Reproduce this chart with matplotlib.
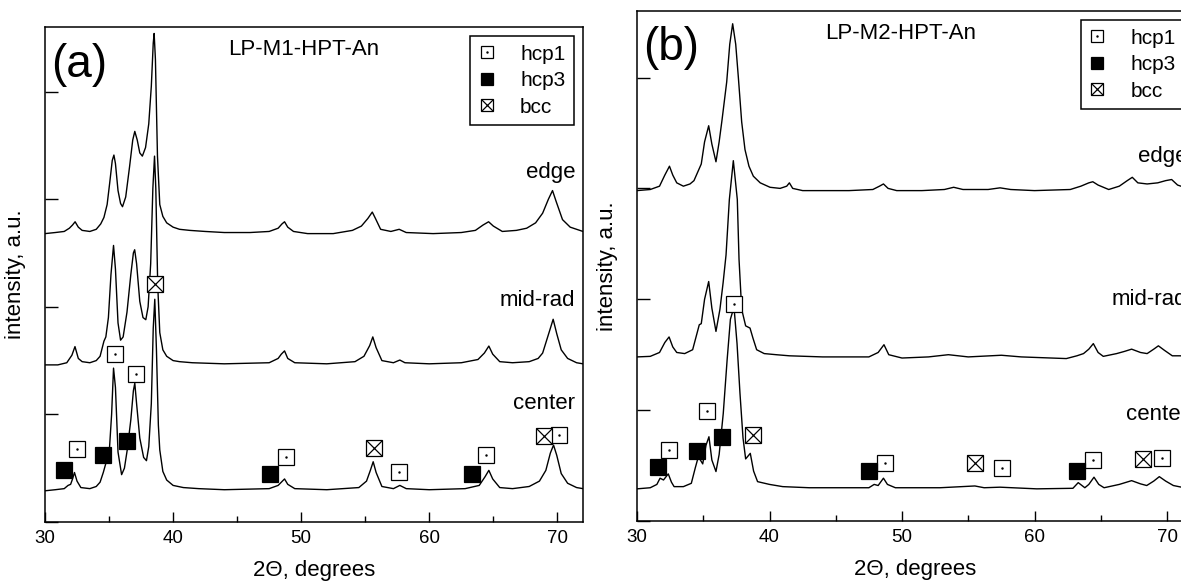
import matplotlib
matplotlib.use("Agg")
import matplotlib.pyplot as plt
from matplotlib.ticker import MultipleLocator

plt.rcParams["font.family"] = ["Liberation Sans", "DejaVu Sans"]

# ---- panel (a): LP-M1-HPT-An ----
a_edge_x = [30.0, 30.8, 31.5, 31.9, 32.15, 32.35, 32.6, 32.9, 33.5, 34.0, 34.35, 34.6, 34.85, 35.05,
            35.25, 35.38, 35.5, 35.7, 35.9, 36.05, 36.3, 36.6, 36.85, 37.01, 37.2, 37.4, 37.6, 37.85,
            38.1, 38.3, 38.45, 38.52, 38.62, 38.78, 38.96, 39.2, 39.5, 40.0, 40.5, 41.3, 42.5, 44.0,
            46.0, 47.5, 48.2, 48.5, 48.7, 48.95, 49.4, 50.5, 52.5, 54.0, 54.7, 55.2, 55.55, 55.8,
            56.2, 57.0, 57.65, 58.2, 60.3, 62.5, 63.6, 64.2, 64.63, 65.0, 65.7, 66.8, 67.6, 68.3,
            68.85, 69.3, 69.62, 69.9, 70.4, 71.0, 72.0]
a_edge_y = [2.68, 2.69, 2.70, 2.73, 2.76, 2.79, 2.74, 2.71, 2.70, 2.72, 2.77, 2.83, 2.95, 3.15,
            3.36, 3.41, 3.33, 3.08, 2.96, 2.93, 3.02, 3.30, 3.55, 3.63, 3.55, 3.43, 3.40, 3.48,
            3.70, 4.05, 4.45, 4.54, 4.30, 3.40, 2.95, 2.84, 2.78, 2.74, 2.72, 2.71, 2.70, 2.69,
            2.69, 2.70, 2.73, 2.77, 2.79, 2.74, 2.70, 2.68, 2.68, 2.71, 2.75, 2.82, 2.88, 2.82,
            2.72, 2.70, 2.72, 2.69, 2.68, 2.69, 2.71, 2.76, 2.79, 2.75, 2.70, 2.71, 2.73, 2.78,
            2.87, 3.00, 3.08, 2.98, 2.81, 2.74, 2.70]

a_mid_x = [30.0, 31.0, 31.7, 32.1, 32.34, 32.6, 32.9, 33.5, 34.0, 34.3, 34.6, 34.75, 34.95, 35.15,
           35.35, 35.5, 35.7, 35.9, 36.1, 36.4, 36.7, 36.9, 37.0, 37.15, 37.4, 37.65, 37.87, 38.05,
           38.25, 38.42, 38.55, 38.65, 38.8, 38.96, 39.2, 39.5, 40.0, 40.5, 41.5, 44.0, 47.5, 48.2,
           48.45, 48.7, 48.95, 49.5, 52.0, 54.2, 54.9, 55.35, 55.59, 55.85, 56.3, 57.2, 57.7, 58.1,
           60.0, 62.5, 63.8, 64.3, 64.65, 64.95, 65.5, 66.5, 67.8, 68.5, 68.85, 69.4, 69.67, 69.95,
           70.3, 70.8, 71.5, 72.0]
a_mid_y = [1.46, 1.46, 1.48, 1.55, 1.63, 1.52, 1.49, 1.48, 1.50, 1.54, 1.68, 1.72, 1.90, 2.30,
           2.57, 2.35, 1.85, 1.69, 1.72, 1.95, 2.30, 2.50, 2.53, 2.40, 2.05, 1.90, 1.88, 2.00,
           2.40, 3.10, 3.40, 3.10, 2.20, 1.76, 1.60, 1.54, 1.50, 1.49, 1.48, 1.47, 1.48, 1.52,
           1.56, 1.59, 1.52, 1.48, 1.47, 1.49, 1.54, 1.64, 1.72, 1.62, 1.50, 1.48, 1.505, 1.48,
           1.47, 1.48, 1.51, 1.57, 1.635, 1.56, 1.49, 1.48, 1.49, 1.52, 1.57, 1.78, 1.884, 1.75,
           1.60, 1.52, 1.48, 1.47]

a_center_x = [30.0, 30.8, 31.5, 31.8, 32.0, 32.15, 32.3, 32.5, 32.8, 33.5, 34.0, 34.3, 34.55, 34.75,
              35.0, 35.2, 35.35, 35.5, 35.7, 35.98, 36.2, 36.42, 36.7, 36.9, 37.01, 37.15, 37.4,
              37.7, 37.92, 38.1, 38.3, 38.45, 38.57, 38.7, 38.85, 38.96, 39.2, 39.5, 40.0, 40.8,
              42.0, 44.0, 47.5, 48.2, 48.45, 48.7, 48.95, 49.5, 52.0, 54.5, 55.1, 55.4, 55.62,
              55.85, 56.3, 57.2, 57.7, 58.2, 60.0, 62.8, 63.9, 64.35, 64.65, 64.95, 65.5, 66.5,
              67.8, 68.6, 69.1, 69.45, 69.7, 69.95, 70.3, 70.8, 71.5, 72.0]
a_center_y = [0.29, 0.30, 0.31, 0.34, 0.35, 0.40, 0.46, 0.38, 0.32, 0.31, 0.33, 0.37, 0.46, 0.545,
              0.62, 1.00, 1.43, 1.25, 0.65, 0.44, 0.50, 0.67, 0.95, 1.22, 1.29, 1.10, 0.78,
              0.60, 0.57, 0.70, 1.10, 1.80, 2.07, 1.60, 0.90, 0.67, 0.47, 0.39, 0.34, 0.32,
              0.31, 0.30, 0.31, 0.34, 0.37, 0.40, 0.35, 0.31, 0.30, 0.32, 0.38, 0.48, 0.56,
              0.46, 0.33, 0.31, 0.34, 0.31, 0.30, 0.31, 0.34, 0.42, 0.48, 0.40, 0.32, 0.31,
              0.33, 0.38, 0.48, 0.64, 0.715, 0.62, 0.45, 0.36, 0.32, 0.31]

a_hcp1_x = [32.47, 35.46, 37.09, 48.78, 57.67, 64.42, 70.14]
a_hcp1_y = [0.676, 1.56, 1.375, 0.60, 0.467, 0.62, 0.805]
a_hcp3_x = [31.51, 34.55, 36.44, 47.54, 63.33]
a_hcp3_y = [0.483, 0.62, 0.756, 0.45, 0.45]
a_bcc_x = [38.57, 55.67, 68.97]
a_bcc_y = [2.21, 0.685, 0.80]

# ---- panel (b): LP-M2-HPT-An ----
b_edge_x = [30.0, 31.0, 31.7, 32.1, 32.45, 32.7, 33.0, 33.5, 34.0, 34.3, 34.63, 34.85, 35.1, 35.41,
            35.65, 35.96, 36.2, 36.42, 36.77, 37.0, 37.22, 37.45, 37.65, 37.9, 38.15, 38.45, 38.78,
            39.3, 40.04, 40.8, 41.3, 41.5, 41.75, 42.5, 44.0, 46.0, 47.8, 48.3, 48.6, 48.95, 49.6,
            51.5, 53.2, 53.9, 54.6, 56.5, 57.4, 58.2, 60.0, 62.7, 63.5, 64.1, 64.4, 64.8, 65.6,
            66.4, 67.0, 67.38, 67.8, 68.5, 69.3, 69.9, 70.35, 70.8, 71.3, 72.0]
b_edge_y = [2.98, 2.99, 3.02, 3.12, 3.20, 3.12, 3.05, 3.02, 3.04, 3.07, 3.16, 3.22, 3.42, 3.565,
            3.40, 3.24, 3.42, 3.62, 3.96, 4.30, 4.485, 4.30, 4.00, 3.60, 3.35, 3.20, 3.11,
            3.05, 3.01, 3.00, 3.02, 3.05, 3.00, 2.98, 2.98, 2.98, 2.99, 3.02, 3.04, 3.00, 2.98,
            2.98, 2.99, 3.01, 2.99, 2.99, 3.005, 2.99, 2.98, 2.99, 3.02, 3.05, 3.06, 3.03, 2.99,
            3.02, 3.07, 3.10, 3.05, 3.04, 3.05, 3.07, 3.08, 3.03, 3.01, 3.00]

b_mid_x = [30.0, 31.0, 31.7, 32.1, 32.42, 32.7, 33.0, 33.6, 34.2, 34.5, 34.7, 34.85, 35.1, 35.41,
           35.65, 35.96, 36.26, 36.5, 36.72, 36.97, 37.27, 37.57, 37.7, 37.9, 38.2, 38.53, 38.75,
           39.03, 39.6, 40.5, 41.5, 44.0, 47.5, 48.2, 48.64, 49.0, 50.0, 52.0, 53.5, 55.0, 57.5,
           59.0, 62.4, 63.2, 63.7, 64.1, 64.44, 64.8, 65.19, 66.2, 66.8, 67.33, 68.0, 68.5, 69.0,
           69.35, 69.8, 70.4, 71.0, 72.0]
b_mid_y = [1.48, 1.485, 1.52, 1.61, 1.66, 1.57, 1.52, 1.51, 1.545, 1.68, 1.77, 1.78, 2.00, 2.16,
           1.92, 1.71, 1.91, 2.15, 2.40, 2.90, 3.25, 2.90, 2.36, 1.91, 1.76, 1.74, 1.65,
           1.545, 1.51, 1.50, 1.49, 1.48, 1.48, 1.52, 1.59, 1.50, 1.47, 1.48, 1.50, 1.48, 1.495,
           1.48, 1.465, 1.49, 1.51, 1.55, 1.60, 1.52, 1.485, 1.51, 1.53, 1.55, 1.52, 1.51, 1.55,
           1.58, 1.54, 1.49, 1.49, 1.48]

b_center_x = [30.0, 31.0, 31.5, 31.74, 32.0, 32.36, 32.6, 32.8, 33.5, 34.1, 34.4, 34.63, 34.96, 35.2,
              35.43, 35.65, 35.96, 36.2, 36.51, 36.8, 37.05, 37.32, 37.55, 37.77, 38.0, 38.2, 38.55,
              38.8, 39.1, 40.0, 41.0, 43.0, 47.5, 47.9, 48.2, 48.6, 48.9, 49.5, 52.87, 55.5, 56.2,
              57.4, 60.17, 62.9, 63.3, 63.8, 64.1, 64.49, 64.85, 65.25, 66.4, 67.33, 68.0, 68.47,
              69.0, 69.42, 69.9, 70.48, 71.3, 72.0]
b_center_y = [0.29, 0.30, 0.33, 0.386, 0.37, 0.425, 0.35, 0.31, 0.31, 0.34, 0.48, 0.58, 0.515, 0.68,
              0.76, 0.55, 0.446, 0.60, 0.97, 1.45, 1.82, 1.93, 1.60, 1.155, 0.75, 0.56, 0.61,
              0.45, 0.355, 0.33, 0.31, 0.30, 0.30, 0.33, 0.32, 0.386, 0.33, 0.30, 0.30, 0.316, 0.30,
              0.305, 0.29, 0.295, 0.346, 0.30, 0.33, 0.395, 0.33, 0.30, 0.33, 0.364, 0.335, 0.32,
              0.36, 0.40, 0.36, 0.32, 0.30, 0.29]

b_hcp1_x = [32.42, 35.26, 37.32, 48.72, 57.57, 64.44, 69.65]
b_hcp1_y = [0.636, 0.99, 1.96, 0.527, 0.476, 0.55, 0.567]
b_hcp3_x = [31.56, 34.55, 36.39, 47.54, 63.18]
b_hcp3_y = [0.485, 0.633, 0.762, 0.455, 0.455]
b_bcc_x = [38.73, 55.5, 68.21]
b_bcc_y = [0.78, 0.52, 0.56]

curve_labels = ["edge", "mid-rad", "center"]
phase_labels = ["hcp1", "hcp3", "bcc"]


def draw_markers(ax, hx, hy, fx, fy, bx, by, ms=11):
    ax.plot(hx, hy, ls="none", marker="s", ms=ms, mfc="white", mec="black", mew=0.9, zorder=5)
    ax.plot(hx, hy, ls="none", marker=".", ms=1.5, color="black", zorder=6)
    ax.plot(fx, fy, ls="none", marker="s", ms=ms, mfc="black", mec="black", mew=0.9, zorder=5)
    ax.plot(bx, by, ls="none", marker="s", ms=ms, mfc="white", mec="black", mew=0.9, zorder=5)
    ax.plot(bx, by, ls="none", marker="x", ms=ms, color="black", mew=0.9, zorder=6)


def style_axes(ax):
    ax.set_xlim(30, 72)
    ax.set_ylim(0, 4.6)
    ax.xaxis.set_major_locator(MultipleLocator(10))
    ax.xaxis.set_minor_locator(MultipleLocator(5))
    ax.yaxis.set_major_locator(MultipleLocator(1))
    ax.set_yticklabels([])
    ax.tick_params(axis="x", which="major", direction="in", length=7, width=1, labelsize=13.5, pad=6,
                   top=False)
    ax.tick_params(axis="x", which="minor", direction="in", length=4, width=1, top=False)
    ax.tick_params(axis="y", which="major", direction="in", length=9, width=1, right=False)
    for s in ax.spines.values():
        s.set_linewidth(1.1)
    ax.set_xlabel("2\u0398, degrees", fontsize=16, labelpad=9)
    ax.set_ylabel("intensity, a.u.", fontsize=16, labelpad=10)


def add_legend(ax):
    h1 = ax.plot([], [], ls="none", marker="s", ms=9, mfc="white", mec="black", mew=0.9)[0]
    h1d = ax.plot([], [], ls="none", marker=".", ms=1.5, color="black")[0]
    h3 = ax.plot([], [], ls="none", marker="s", ms=9, mfc="black", mec="black", mew=0.9)[0]
    hb = ax.plot([], [], ls="none", marker="s", ms=9, mfc="white", mec="black", mew=0.9)[0]
    hbx = ax.plot([], [], ls="none", marker="x", ms=9, color="black", mew=0.9)[0]
    leg = ax.legend([(h1, h1d), h3, (hb, hbx)], phase_labels, loc="upper right", fontsize=15,
                    frameon=True, fancybox=False, framealpha=1, edgecolor="black",
                    handlelength=0.8, handletextpad=1.2, borderpad=0.4, labelspacing=0.36,
                    borderaxespad=0.45)
    leg.get_frame().set_linewidth(1.1)


fig = plt.figure(figsize=(11.81, 5.85), dpi=100)
ax_a = fig.add_axes([45 / 1181, 63 / 585, 538 / 1181, 495 / 585])
ax_b = fig.add_axes([637 / 1181, 64 / 585, 556.5 / 1181, 510 / 585])

for ax in (ax_a, ax_b):
    style_axes(ax)

# panel (a)
for xs, ys in [(a_edge_x, a_edge_y), (a_mid_x, a_mid_y), (a_center_x, a_center_y)]:
    ax_a.plot(xs, ys, color="black", lw=1.0)
draw_markers(ax_a, a_hcp1_x, a_hcp1_y, a_hcp3_x, a_hcp3_y, a_bcc_x, a_bcc_y)
for lab, yy in zip(curve_labels, [3.25, 2.06, 1.10]):
    ax_a.text(71.4, yy, lab, ha="right", va="center", fontsize=16)
ax_a.text(50.2, 4.39, "LP-M1-HPT-An", ha="center", va="center", fontsize=16)
ax_a.text(30.5, 4.25, "(a)", ha="left", va="center", fontsize=33)
add_legend(ax_a)

# panel (b)
for xs, ys in [(b_edge_x, b_edge_y), (b_mid_x, b_mid_y), (b_center_x, b_center_y)]:
    ax_b.plot(xs, ys, color="black", lw=1.0)
draw_markers(ax_b, b_hcp1_x, b_hcp1_y, b_hcp3_x, b_hcp3_y, b_bcc_x, b_bcc_y)
for lab, yy in zip(curve_labels, [3.29, 2.0, 0.96]):
    ax_b.text(71.55, yy, lab, ha="right", va="center", fontsize=16)
ax_b.text(49.9, 4.40, "LP-M2-HPT-An", ha="center", va="center", fontsize=16)
ax_b.text(30.5, 4.27, "(b)", ha="left", va="center", fontsize=33)
add_legend(ax_b)

fig.savefig("out.png", dpi=100)
